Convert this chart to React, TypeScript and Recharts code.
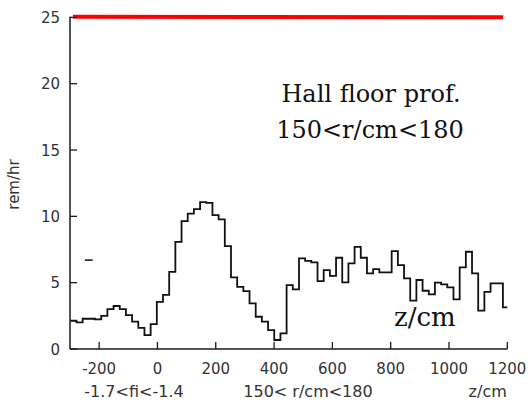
import React from "react";
import { LineChart, Line, XAxis, YAxis } from "recharts";

// histogram: bins of ~21.2 cm starting at z = -299 cm
const binStart = -299;
const binWidth = 21.2;
const rate: number[] = [
  2.13, 2.0, 2.28, 2.28, 2.23, 2.5, 3.0, 3.24, 3.0, 2.56,
  2.06, 1.6, 1.05, 1.88, 3.55, 4.08, 5.82, 8.08, 9.64, 10.2,
  10.54, 11.07, 11.02, 10.09, 9.77, 7.76, 5.4, 4.69, 4.37, 3.44,
  2.43, 2.06, 1.43, 0.68, 1.18, 4.82, 4.5, 6.83, 6.65, 6.53,
  5.12, 5.95, 5.52, 6.88, 5.02, 6.45, 7.7, 6.88, 5.7, 6.02,
  5.77, 5.77, 7.38, 6.33, 5.32, 3.64, 5.2, 4.39, 4.12, 5.0,
  4.87, 4.65, 3.74, 6.15, 7.33, 5.7, 2.89, 4.31, 4.95, 4.95,
  3.14,
];
const redZ = [-290, 1186];
const redV = [25.05, 25.0];
const dashZ = [-249, -222];
const dashV = [6.7, 6.7];

const xTicks = [-200, 0, 200, 400, 600, 800, 1000, 1200];
const yTicks = [0, 5, 10, 15, 20, 25];

const stepData = [
  ...rate.map((v, i) => ({ z: binStart + i * binWidth, rate: v })),
  { z: 1200, rate: rate[rate.length - 1] },
];
const redData = redZ.map((z, i) => ({ z, red: redV[i] }));
const dashData = dashZ.map((z, i) => ({ z, dash: dashV[i] }));

const AX = "#1a1a1a";
const TXT = "#333";
const SANS = "DejaVu Sans, Verdana, sans-serif";
const SERIF = "DejaVu Serif, serif";

const BottomTick = (p: any) => (
  <g>
    <line x1={p.x} y1={p.y} x2={p.x} y2={p.y - 7} stroke={AX} strokeWidth={1.3} />
    <text x={p.x} y={p.y + 25} textAnchor="middle" fontFamily={SANS} fontSize={15} fill={TXT}>
      {p.payload.value}
    </text>
  </g>
);
const TopTick = (p: any) => (
  <line x1={p.x} y1={p.y} x2={p.x} y2={p.y + 7} stroke={AX} strokeWidth={1.3} />
);
const LeftTick = (p: any) => (
  <g>
    <line x1={p.x} y1={p.y} x2={p.x + 7} y2={p.y} stroke={AX} strokeWidth={1.3} />
    <text x={p.x - 10} y={p.y + 5.5} textAnchor="end" fontFamily={SANS} fontSize={15} fill={TXT}>
      {p.payload.value}
    </text>
  </g>
);
const RightTick = (p: any) => (
  <line x1={p.x} y1={p.y} x2={p.x - 7} y2={p.y} stroke={AX} strokeWidth={1.3} />
);

export default function App() {
  return (
    <div style={{ position: "absolute", left: 0, top: 0, width: 532, height: 406, background: "#fff" }}>
      <LineChart
        width={532}
        height={406}
        margin={{ top: 16.7, right: 24.7, left: 0, bottom: 27 }}
      >
        <XAxis
          xAxisId="b"
          dataKey="z"
          type="number"
          domain={[-300, 1200]}
          ticks={xTicks}
          height={30}
          tickSize={0}
          tickMargin={0}
          tickLine={false}
          axisLine={{ stroke: AX, strokeWidth: 1.5 }}
          tick={BottomTick}
          interval={0}
        />
        <XAxis
          xAxisId="t"
          orientation="top"
          dataKey="z"
          type="number"
          domain={[-300, 1200]}
          ticks={xTicks}
          height={0}
          tickSize={0}
          tickMargin={0}
          tickLine={false}
          axisLine={{ stroke: AX, strokeWidth: 1.5 }}
          tick={TopTick}
          interval={0}
        />
        <YAxis
          yAxisId="l"
          type="number"
          domain={[0, 25]}
          ticks={yTicks}
          width={70}
          tickSize={0}
          tickMargin={0}
          tickLine={false}
          axisLine={{ stroke: AX, strokeWidth: 1.5 }}
          tick={LeftTick}
          interval={0}
        />
        <YAxis
          yAxisId="r"
          orientation="right"
          type="number"
          domain={[0, 25]}
          ticks={yTicks}
          width={0}
          tickSize={0}
          tickMargin={0}
          tickLine={false}
          axisLine={{ stroke: AX, strokeWidth: 1.5 }}
          tick={RightTick}
          interval={0}
        />
        <Line
          xAxisId="b"
          yAxisId="l"
          data={stepData}
          dataKey="rate"
          type="stepAfter"
          stroke="#111"
          strokeWidth={1.8}
          dot={false}
          isAnimationActive={false}
        />
        <Line
          xAxisId="b"
          yAxisId="l"
          data={dashData}
          dataKey="dash"
          type="linear"
          stroke="#111"
          strokeWidth={1.5}
          dot={false}
          isAnimationActive={false}
        />
        <Line
          xAxisId="b"
          yAxisId="l"
          data={redData}
          dataKey="red"
          type="linear"
          stroke="#ff0000"
          strokeWidth={4}
          dot={false}
          isAnimationActive={false}
        />
      </LineChart>
      <svg
        width={532}
        height={406}
        style={{ position: "absolute", left: 0, top: 0, pointerEvents: "none" }}
      >
        <text x={371} y={101.7} textAnchor="middle" fontFamily={SERIF} fontSize={24} fill="#111">
          Hall floor prof.
        </text>
        <text x={370} y={137.7} textAnchor="middle" fontFamily={SERIF} fontSize={24} fill="#111">
          150&lt;r/cm&lt;180
        </text>
        <text x={394} y={326} textAnchor="start" fontFamily={SERIF} fontSize={26} fill="#111">
          z/cm
        </text>
        <text
          x={14}
          y={184.5}
          textAnchor="middle"
          dominantBaseline="central"
          transform="rotate(-90 14 184.5)"
          fontFamily={SANS}
          fontSize={15}
          fill={TXT}
        >
          rem/hr
        </text>
        <text x={134} y={397} textAnchor="middle" fontFamily={SANS} fontSize={16} fill={TXT}>
          -1.7&lt;fi&lt;-1.4
        </text>
        <text x={308} y={397} textAnchor="middle" fontFamily={SANS} fontSize={16} fill={TXT}>
          150&lt; r/cm&lt;180
        </text>
        <text x={487.7} y={397} textAnchor="middle" fontFamily={SANS} fontSize={16} fill={TXT}>
          z/cm
        </text>
      </svg>
    </div>
  );
}
